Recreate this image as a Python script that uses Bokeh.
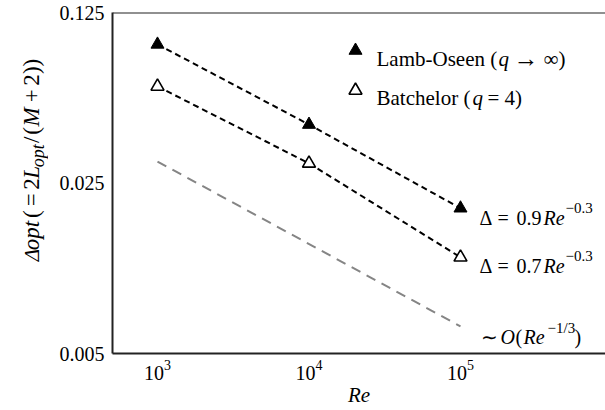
import math
from bokeh.plotting import figure
from bokeh.layouts import row
from bokeh.models import Range1d, FixedTicker, Span, Label, LogTickFormatter
from bokeh.embed import file_html
from bokeh.resources import INLINE

# ---- data ----
re_vals = [1e3, 1e4, 1e5]
lamb_oseen = [0.0925, 0.0434, 0.0197]
batchelor = [0.0622, 0.0301, 0.0124]
ref_re = [1e3, 1e5]
ref_delta = [0.0306, 0.00646]
x_ticks = [1e3, 1e4, 1e5]
y_ticks = [0.005, 0.025, 0.125]
y_tick_labels = ["0.005", "0.025", "0.125"]

FONT = "Liberation Serif"
LEFT_W = 48          # strip holding the rotated y title
W, H = 605 - LEFT_W, 410
BL, BT, BB, BR = 112 - LEFT_W, 12, 57, 0
PX_PER_DEC_X = 151.5
LOG_XLO = 2.703
X_LO = 10 ** LOG_XLO
X_HI = 10 ** (LOG_XLO + (W - BL - BR) / PX_PER_DEC_X)
Y_LO, Y_HI = 0.005, 0.125
FRAME_H = H - BT - BB
PX_PER_DEC_Y = FRAME_H / (math.log10(Y_HI) - math.log10(Y_LO))


def to_data(X, Y):
    """page pixel position -> data coordinates of the main plot"""
    fx = X - LEFT_W - BL
    fy = Y - BT
    return (10 ** (LOG_XLO + fx / PX_PER_DEC_X),
            10 ** (math.log10(Y_HI) - fy / PX_PER_DEC_Y))


p = figure(width=W, height=H, x_axis_type="log", y_axis_type="log",
           x_range=Range1d(X_LO, X_HI), y_range=Range1d(Y_LO, Y_HI),
           output_backend="svg", toolbar_location=None,
           min_border_left=BL, min_border_top=BT, min_border_bottom=BB,
           min_border_right=BR)
p.outline_line_color = None
p.xgrid.visible = False
p.ygrid.visible = False
p.background_fill_color = "white"
p.border_fill_color = "white"

for ax in (p.xaxis, p.yaxis):
    ax.axis_line_width = 2
    ax.axis_line_color = "#222222"
    ax.major_tick_line_color = None
    ax.minor_tick_line_color = None
    ax.major_tick_out = 0
    ax.major_tick_in = 0
    ax.major_label_text_font = FONT
    ax.major_label_text_font_size = "20px"
    ax.major_label_text_color = "black"
    ax.major_label_standoff = 8

p.xaxis.ticker = FixedTicker(ticks=x_ticks)
p.xaxis.formatter = LogTickFormatter()
p.xaxis.major_label_standoff = 6
p.yaxis.ticker = FixedTicker(ticks=y_ticks)
p.yaxis.major_label_overrides = dict(zip(y_ticks, y_tick_labels))

p.xaxis.axis_label = "Re"
p.xaxis.axis_label_text_font = FONT
p.xaxis.axis_label_text_font_style = "italic"
p.xaxis.axis_label_text_font_size = "21px"
p.xaxis.axis_label_text_color = "black"
p.xaxis.axis_label_standoff = 0

p.add_layout(Span(location=Y_HI, dimension="width", line_color="#222222", line_width=2))

# lines
p.line(ref_re, ref_delta, line_color="#858585", line_width=2, line_dash="10 7")
p.line(re_vals, lamb_oseen, line_color="black", line_width=2, line_dash="6 4")
p.line(re_vals, batchelor, line_color="black", line_width=2, line_dash="6 4")

# markers
p.scatter(re_vals, lamb_oseen, marker="triangle", size=13,
          fill_color="black", line_color="black", line_width=1)
p.scatter(re_vals, batchelor, marker="triangle", size=13,
          fill_color="white", line_color="black", line_width=1.6)


def piece(fig, x, y, text, size=20, style="normal", angle=0.0):
    fig.add_layout(Label(x=x, y=y, text=text, text_font=FONT,
                         text_font_size=f"{size}px", text_font_style=style,
                         text_baseline="alphabetic", text_align="left",
                         angle=angle, text_color="black"))


def mpiece(text, X, Y, size=20, style="normal"):
    x, y = to_data(X, Y)
    piece(p, x, y, text, size, style)


# legend
lx, ly = to_data(355, 50)
p.scatter([lx], [ly], marker="triangle", size=13, fill_color="black", line_color="black")
lx2, ly2 = to_data(355, 90)
p.scatter([lx2], [ly2], marker="triangle", size=13, fill_color="white",
          line_color="black", line_width=1.6)
mpiece("Lamb-Oseen (", 376, 58, 21)
mpiece("q", 498, 58, 21, "italic")
mpiece("→", 513, 58, 25)
mpiece("∞)", 543, 58, 21)
mpiece("Batchelor (", 376, 97, 21)
mpiece("q", 472, 97, 21, "italic")
mpiece("= 4)", 487, 97, 21)

# fit annotations
for base, coef in ((217, "0.9"), (265, "0.7")):
    mpiece("Δ", 479, base, 20)
    mpiece("=", 497, base, 20)
    mpiece(coef, 516, base, 20)
    mpiece("Re", 543, base, 20, "italic")
    mpiece("−0.3", 565, base - 10, 15)

mpiece("∼", 480, 336, 20)
mpiece("O", 500, 336, 20, "italic")
mpiece("(", 515, 336, 20)
mpiece("Re", 523, 336, 20, "italic")
mpiece("−1/3", 547, 327, 15)
mpiece(")", 574, 336, 20)

# ---- left strip with the rotated y title (coordinates = page pixels) ----
q = figure(width=LEFT_W, height=H, x_range=Range1d(0, LEFT_W), y_range=Range1d(H, 0),
           output_backend="svg", toolbar_location=None,
           x_axis_location=None, y_axis_location=None,
           min_border_left=0, min_border_right=0, min_border_top=0, min_border_bottom=0)
q.outline_line_color = None
q.xgrid.visible = False
q.ygrid.visible = False
q.background_fill_color = "white"
q.border_fill_color = "white"

A = math.pi / 2
BX = 31
TS = 23
piece(q, BX, 299, "Δ", 21, "italic", A)
piece(q, BX, 286, "opt", TS, "italic", A)
piece(q, BX, 247, "(", TS, "normal", A)
piece(q, BX, 233, "=", TS, "normal", A)
piece(q, BX, 213, "2", TS, "normal", A)
piece(q, BX, 200, "L", TS, "italic", A)
piece(q, BX + 6, 186, "opt", 18, "italic", A)
piece(q, BX, 157, "/", TS, "normal", A)
piece(q, BX, 147, "(", TS, "normal", A)
piece(q, BX, 137, "M", TS, "italic", A)
piece(q, BX, 108, "+", TS, "normal", A)
piece(q, BX, 88, "2", TS, "normal", A)
piece(q, BX, 74, "))", TS, "normal", A)

layout = row(q, p)
open("out.html", "w").write(file_html(layout, INLINE))
